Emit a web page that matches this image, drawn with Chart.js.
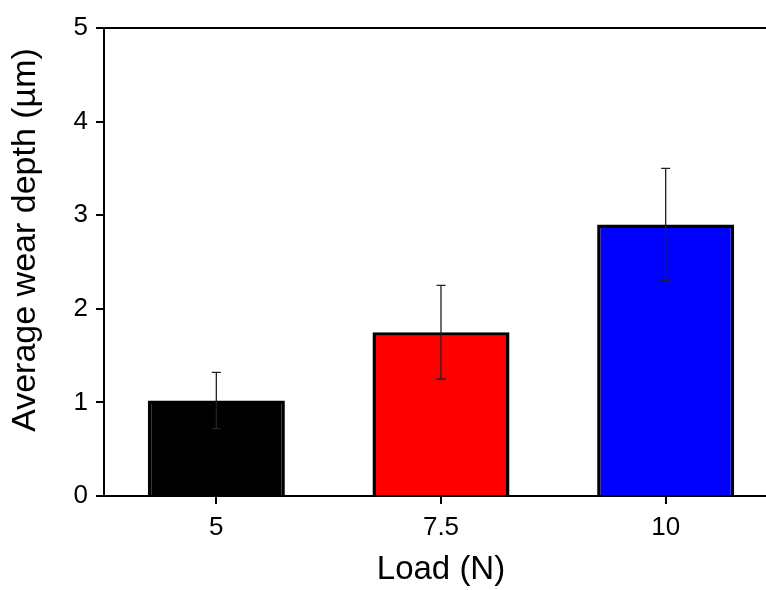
<!DOCTYPE html>
<html>
<head>
<meta charset="utf-8">
<script src="https://cdn.jsdelivr.net/npm/chart.js@4"></script>
<style>
  html, body { margin: 0; padding: 0; background: #fff; overflow: hidden; }
  #wrap { width: 800px; height: 590px; }
</style>
</head>
<body>
<div id="wrap"><canvas id="myChart-bar" width="800" height="590"></canvas></div>
<script>
// data
const loads = ['5', '7.5', '10'];
const wearDepth = [1.02, 1.75, 2.90];
const wearError = [0.30, 0.50, 0.60];
const barColors = ['rgb(0, 0, 0)', 'rgb(255, 0, 0)', 'rgb(0, 0, 255)'];
const yTicks = [0, 1, 2, 3, 4, 5];
const yTitle = 'Average wear depth (µm)';

const fontFamily = '"Liberation Sans", Arial, sans-serif';

// error bars, frame line and the y title (sits a bit above the axis centre in the original)
const errorBars = {
  id: 'errorBars',
  afterDatasetsDraw(chart) {
    const ctx = chart.ctx;
    const meta = chart.getDatasetMeta(0);
    const y = chart.scales.y;
    ctx.save();
    ctx.strokeStyle = '#222';
    ctx.lineWidth = 1.3;
    meta.data.forEach((bar, i) => {
      const x = bar.x;
      const hi = y.getPixelForValue(wearDepth[i] + wearError[i]);
      const lo = y.getPixelForValue(wearDepth[i] - wearError[i]);
      ctx.beginPath();
      ctx.moveTo(x, hi); ctx.lineTo(x, lo);
      ctx.moveTo(x - 4.5, hi); ctx.lineTo(x + 4.5, hi);
      ctx.moveTo(x - 4.5, lo); ctx.lineTo(x + 4.5, lo);
      ctx.stroke();
    });
    const area = chart.chartArea;
    ctx.strokeStyle = '#000';
    ctx.lineWidth = 2;
    ctx.beginPath();
    ctx.moveTo(area.left, area.top);
    ctx.lineTo(area.right, area.top);
    ctx.lineTo(area.right, area.bottom);
    ctx.stroke();
    ctx.restore();
  },
  afterDraw(chart) {
    const ctx = chart.ctx;
    ctx.save();
    ctx.translate(35, 240);
    ctx.rotate(-Math.PI / 2);
    ctx.fillStyle = '#000';
    ctx.font = '34px ' + fontFamily;
    ctx.textAlign = 'center';
    ctx.textBaseline = 'alphabetic';
    ctx.fillText(yTitle, 0, 0);
    ctx.restore();
  }
};

const ctxBar = document.getElementById('myChart-bar').getContext('2d');

const myChartBar = new Chart(ctxBar, {
  type: 'bar',
  data: {
    labels: loads,
    datasets: [{
      data: wearDepth,
      backgroundColor: barColors,
      borderColor: '#000',
      borderWidth: 3.5,
      barPercentage: 0.61,
      categoryPercentage: 1
    }]
  },
  options: {
    responsive: false,
    animation: false,
    layout: { padding: { top: 28, right: 22, bottom: 0, left: 0 } },
    plugins: {
      legend: { display: false },
      tooltip: { enabled: false }
    },
    scales: {
      x: {
        offset: true,
        grid: {
          offset: false,
          drawOnChartArea: false,
          drawTicks: true,
          tickLength: 8,
          color: '#000',
          lineWidth: 2
        },
        border: { display: true, color: '#000', width: 2 },
        ticks: {
          color: '#000',
          padding: 8,
          font: { family: fontFamily, size: 26 }
        },
        title: {
          display: true,
          text: 'Load (N)',
          color: '#000',
          padding: { top: 0, bottom: 0 },
          font: { family: fontFamily, size: 33 }
        },
        afterFit(scale) { scale.height = 94; }
      },
      y: {
        min: 0,
        max: 5,
        afterBuildTicks(scale) { scale.ticks = yTicks.map(v => ({ value: v })); },
        grid: {
          drawOnChartArea: false,
          drawTicks: true,
          tickLength: 8,
          color: '#000',
          lineWidth: 2
        },
        border: { display: true, color: '#000', width: 2 },
        ticks: {
          color: '#000',
          padding: 8,
          font: { family: fontFamily, size: 26 }
        },
        title: { display: false },
        afterFit(scale) { scale.width = 104; }
      }
    }
  },
  plugins: [errorBars]
});
</script>
</body>
</html>
